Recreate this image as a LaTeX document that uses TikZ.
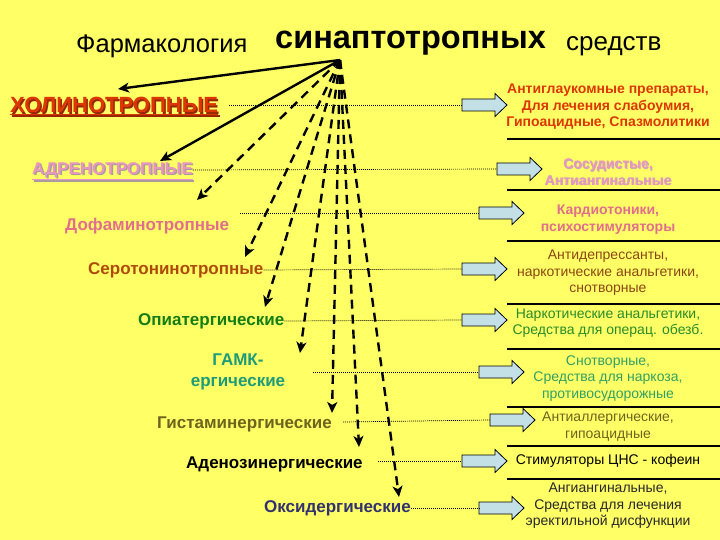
\documentclass[tikz,border=0pt]{standalone}
\usepackage{fontspec}
\setmainfont{Liberation Sans}
\usetikzlibrary{arrows.meta}
\definecolor{bgyellow}{RGB}{255,255,102}
\definecolor{arrowfill}{RGB}{194,224,230}
\definecolor{cholin}{RGB}{220,55,0}
\definecolor{cholinsh}{RGB}{150,40,0}
\definecolor{adren}{RGB}{232,150,190}
\definecolor{adrensh}{RGB}{170,155,160}
\definecolor{adrensh2}{RGB}{200,170,180}
\definecolor{dofa}{RGB}{225,110,140}
\definecolor{sero}{RGB}{175,75,10}
\definecolor{serotxt}{RGB}{140,70,20}
\definecolor{opia}{RGB}{20,125,20}
\definecolor{opiatxt}{RGB}{40,140,40}
\definecolor{gamk}{RGB}{30,155,120}
\definecolor{gamktxt}{RGB}{50,160,100}
\definecolor{gist}{RGB}{110,100,30}
\definecolor{oksi}{RGB}{50,50,110}
\definecolor{darktxt}{RGB}{40,40,40}
\tikzset{
  lbl/.style={anchor=west, inner sep=0pt, font=\bfseries\fontsize{17}{20}\selectfont},
  rtxt/.style={align=center, inner sep=0pt, font=\fontsize{14}{16.5}\selectfont},
  rtxtb/.style={align=center, inner sep=0pt, font=\bfseries\fontsize{14}{16.5}\selectfont},
  solidarr/.style={line width=2.4pt, -{Stealth[length=11pt,width=10pt,inset=3pt]}},
  dasharr/.style={line width=2.4pt, dash pattern=on 9pt off 6pt, -{Stealth[length=11pt,width=10pt,inset=3pt]}},
  dotline/.style={line width=0.7pt, dash pattern=on 1pt off 1pt},
  sepline/.style={line width=1.1pt},
  blockarrow/.pic={\draw[fill=arrowfill, line width=0.8pt] (0,-6) -- (33,-6) -- (33,-11.5) -- (45,0) -- (33,11.5) -- (33,6) -- (0,6) -- cycle;}
}
\begin{document}
\begin{tikzpicture}[x=1pt,y=-1pt]
\useasboundingbox (0,0) rectangle (720,540);
\fill[bgyellow] (0,0) rectangle (720,540);

% title
\node[anchor=west, inner sep=0pt, font=\fontsize{25.5}{28}\selectfont] (t1) at (76,46) {Фармакология};
\node[anchor=west, inner sep=0pt, font=\bfseries\fontsize{32.5}{36}\selectfont] (t2) at (275,43) {синаптотропных};
\node[anchor=west, inner sep=0pt, font=\fontsize{26}{28}\selectfont] (t3) at (566,46) {средств};

\coordinate (src) at (340,60);

% left labels
\node[lbl, font=\bfseries\fontsize{22}{24}\selectfont, text=cholinsh] (l1s) at (11.5,106.5) {ХОЛИНОТРОПНЫЕ};
\draw[cholinsh, line width=1.8pt] ([yshift=-1.5pt]l1s.south west) -- ([yshift=-1.5pt]l1s.south east);
\node[lbl, font=\bfseries\fontsize{22}{24}\selectfont, text=cholin] (l1) at (10,105) {ХОЛИНОТРОПНЫЕ};
\draw[cholin, line width=1.8pt] ([yshift=-1.5pt]l1.south west) -- ([yshift=-1.5pt]l1.south east);

\node[lbl, text=adrensh] (l2s) at (33.5,171.5) {АДРЕНОТРОПНЫЕ};
\draw[adrensh, line width=1.5pt] ([yshift=-1.5pt]l2s.south west) -- ([yshift=-1.5pt]l2s.south east);
\node[lbl, text=adren] (l2) at (32,170) {АДРЕНОТРОПНЫЕ};
\draw[adren, line width=1.5pt] ([yshift=-1.5pt]l2.south west) -- ([yshift=-1.5pt]l2.south east);

\node[lbl, text=dofa] (l3) at (65,226) {Дофаминотропные};
\node[lbl, text=sero] (l4) at (88,270) {Серотонинотропные};
\node[lbl, text=opia] (l5) at (138,321) {Опиатергические};
\node[align=center, inner sep=0pt, font=\bfseries\fontsize{17}{21}\selectfont, text=gamk] (l6) at (238,372) {ГАМК-\\ергические};
\node[lbl, text=gist] (l7) at (157,424) {Гистаминергические};
\node[lbl, text=black] (l8) at (186,464) {Аденозинергические};
\node[lbl, text=oksi] (l9) at (264,508) {Оксидергические};

% fan arrows
\coordinate (e1) at (118,89);
\coordinate (e2) at (160,161);
\coordinate (e3) at (197,200);
\coordinate (e4) at (245,257);
\coordinate (e5) at (265,307);
\coordinate (e6) at (300,353);
\coordinate (e7) at (332,413);
\coordinate (e8) at (359,447);
\coordinate (e9) at (399,497);
\draw[solidarr] (src) -- (e1);
\draw[solidarr] (src) -- (e2);
\foreach \i in {3,...,9} {\draw[dasharr] (src) -- (e\i);}

% block arrows
\foreach \i/\x/\y in {1/462/105, 2/497/169, 3/479/213, 4/462/269, 5/462/320, 6/479/372, 7/490/420, 8/462/461, 9/479/508} {
  \coordinate (b\i) at (\x,\y);
  \pic at (b\i) {blockarrow};
}

% dotted connectors
\coordinate (d1) at (229,105);
\coordinate (d3) at (240,213);
\coordinate (d6) at (313,372);
\coordinate (d7) at (343,422);
\coordinate (d8) at (378,461);
\draw[dotline] (d1) -- (b1);
\draw[dotline] (l2.east) -- (b2);
\draw[dotline] (d3) -- (b3);
\draw[dotline] (l4.east) -- (b4);
\draw[dotline] (l5.east) -- (b5);
\draw[dotline] (d6) -- (b6);
\draw[dotline] (d7) -- (b7);
\draw[dotline] (d8) -- (b8);
\draw[dotline] (l9.east) -- (b9);

% separator lines
\foreach \i/\y in {1/139, 2/190, 3/241, 4/304, 5/349, 6/407, 7/446, 8/479} {
  \coordinate (s\i a) at (507,\y);
  \coordinate (s\i b) at (720,\y);
  \draw[sepline] (s\i a) -- (s\i b);
}

% right texts
\node[rtxtb, text=cholin] (r1) at (608,107) {Антиглаукомные препараты,\\Для лечения слабоумия,\\Гипоацидные, Спазмолитики};
\node[rtxtb, text=adrensh2] (r2s) at (608.8,172.8) {Сосудистые,\\Антиангинальные};
\node[rtxtb, text=adren] (r2) at (608,172) {Сосудистые,\\Антиангинальные};
\node[rtxtb, text=dofa] (r3) at (608,219.5) {Кардиотоники,\\психостимуляторы};
\node[rtxt, text=serotxt] (r4) at (608,273) {Антидепрессанты,\\наркотические анальгетики,\\снотворные};
\node[rtxt, text=opiatxt] (r5) at (608,323) {Наркотические анальгетики,\\Средства для операц. обезб.};
\node[rtxt, text=gamktxt] (r6) at (608,378.5) {Снотворные,\\Средства для наркоза,\\противосудорожные};
\node[rtxt, text=gist] (r7) at (608,426.5) {Антиаллергические,\\гипоацидные};
\node[rtxt, text=black] (r8) at (608,461) {Стимуляторы ЦНС - кофеин};
\node[rtxt, text=darktxt] (r9) at (608,506) {Ангиангинальные,\\Средства для лечения\\эректильной дисфункции};
\end{tikzpicture}
\end{document}
